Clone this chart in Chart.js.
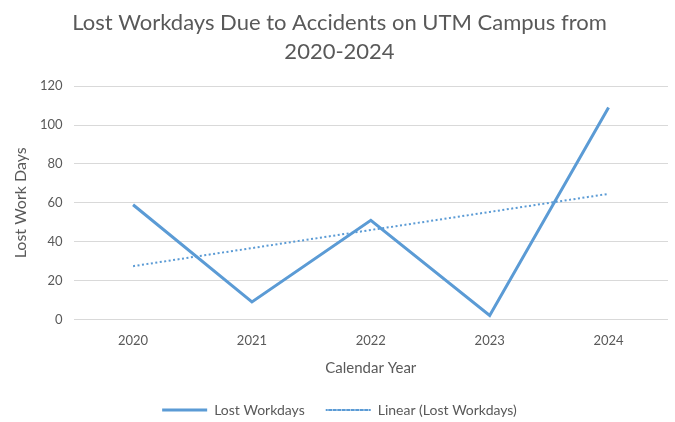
<!DOCTYPE html>
<html>
<head>
<meta charset="utf-8">
<script src="https://cdn.jsdelivr.net/npm/chart.js@4"></script>
<style>
  html, body { margin: 0; padding: 0; background: #fff; }
  #wrap { width: 675px; height: 422px; }
</style>
</head>
<body>
<div id="wrap"><canvas id="chart" width="675" height="422"></canvas></div>
<script>
/* ── Data ─────────────────────────────────────────────────────────────── */
const years        = ['2020', '2021', '2022', '2023', '2024'];
const lostWorkdays = [59, 9, 51, 2, 109];
const linearTrend  = [27.4, 36.7, 46, 55.3, 64.6];   // Excel linear trendline
const yTicks       = [0, 20, 40, 60, 80, 100, 120];

const FONT = 'Lato, "Open Sans", sans-serif';
const GREY = '#595959';
const BLUE = '#5B9BD5';

/* ── Chart ────────────────────────────────────────────────────────────── */
const ctx = document.getElementById('chart').getContext('2d');
new Chart(ctx, {
  type: 'line',
  data: {
    labels: years,
    datasets: [
      {
        label: 'Lost Workdays',
        data: lostWorkdays,
        borderColor: BLUE,
        borderWidth: 3,
        pointRadius: 0,
        tension: 0,
        fill: false,
      },
      {
        label: 'Linear (Lost Workdays)',
        data: linearTrend,
        borderColor: BLUE,
        borderWidth: 2,
        borderDash: [2, 2.5],
        pointRadius: 0,
        tension: 0,
        fill: false,
      },
    ],
  },
  options: {
    responsive: false,
    animation: false,
    layout: { padding: { left: 11, right: 7, top: 4, bottom: -5 } },
    plugins: {
      title: {
        display: true,
        text: ['Lost Workdays Due to Accidents on UTM Campus from', '2020-2024'],
        color: GREY,
        font: { family: FONT, size: 22, weight: 'normal', lineHeight: 1.3 },
        padding: { top: 5, bottom: 20 },
      },
      legend: {
        position: 'bottom',
        labels: {
          color: GREY,
          font: { family: FONT, size: 14 },
          boxWidth: 45,
          boxHeight: 0,
          padding: 21,
          generateLabels: (chart) => chart.data.datasets.map((ds, i) => ({
            text: ds.label,
            fillStyle: 'rgba(0,0,0,0)',
            strokeStyle: ds.borderColor,
            lineWidth: ds.borderWidth,
            lineDash: ds.borderDash || [],
            fontColor: GREY,
            datasetIndex: i,
          })),
        },
      },
      tooltip: { enabled: false },
    },
    scales: {
      x: {
        offset: true,
        grid: { display: false },
        border: { display: false },
        ticks: { color: GREY, font: { family: FONT, size: 13 }, padding: 6 },
        title: {
          display: true,
          text: 'Calendar Year',
          color: GREY,
          font: { family: FONT, size: 15 },
          padding: { top: 4, bottom: 5 },
        },
      },
      y: {
        min: 0,
        max: 120,
        afterBuildTicks: (axis) => { axis.ticks = yTicks.map(v => ({ value: v })); },
        grid: { color: '#D9D9D9', lineWidth: 1, drawTicks: false },
        border: { display: false },
        ticks: { color: GREY, font: { family: FONT, size: 13 }, padding: 11 },
        title: {
          display: true,
          text: 'Lost Work Days',
          color: GREY,
          font: { family: FONT, size: 16, lineHeight: 1 },
          padding: { top: 2, bottom: 0 },
        },
      },
    },
  },
});
</script>
</body>
</html>
